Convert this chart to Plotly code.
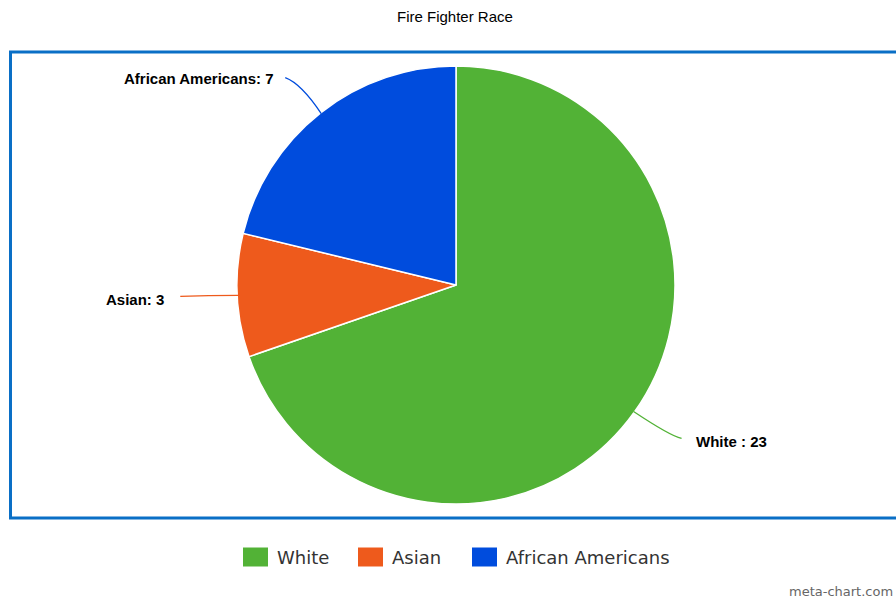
import math
import plotly.graph_objects as go

# Fire fighter headcount by race
categories = ["White", "Asian", "African Americans"]
counts = [23, 3, 7]
colors = ["#52B236", "#EE5A1C", "#004CDD"]

W, H = 896, 600
cx, cy, R = 456, 285, 218  # pie centre and radius in pixels


def px(x):
    return x / W


def py(y):
    return 1 - y / H


fig = go.Figure()
fig.add_trace(go.Pie(
    labels=categories,
    values=counts,
    sort=False,
    direction="clockwise",
    rotation=0,
    marker=dict(colors=colors, line=dict(color="white", width=1.5)),
    textinfo="none",
    hoverinfo="label+value",
    showlegend=False,
    domain=dict(x=[px(cx - R - 1), px(cx + R + 1)], y=[py(cy + R + 1), py(cy - R - 1)]),
))

# outside labels with connector lines, positioned from each slice's mid-angle
total = sum(counts)
label_cfg = {
    "White": dict(dx=48, dy=27, curve=(36, 24), xanchor="left", text_dx=12, text_dy=3),
    "Asian": dict(dx=-58, dy=1, curve=(-30, 0), xanchor="right", text_dx=-14, text_dy=3),
    "African Americans": dict(dx=-36, dy=-36, curve=(-20, -30), xanchor="right", text_dx=-9, text_dy=1),
}
shapes = []
annotations = []
start = 0.0
for name, val, col in zip(categories, counts, colors):
    mid = (start + val / 2) / total * 2 * math.pi
    start += val
    ex = cx + R * math.sin(mid)
    ey = cy - R * math.cos(mid)
    c = label_cfg[name]
    tx, ty = ex + c["dx"], ey + c["dy"]
    qx, qy = ex + c["curve"][0], ey + c["curve"][1]
    shapes.append(dict(
        type="path", xref="paper", yref="paper",
        path=f"M {px(ex)},{py(ey)} Q {px(qx)},{py(qy)} {px(tx)},{py(ty)}",
        line=dict(color=col, width=1.3),
    ))
    sep = " : " if name == "White" else ": "
    annotations.append(dict(
        x=px(tx + c["text_dx"]), y=py(ty + c["text_dy"]), xref="paper", yref="paper",
        text=f"<b>{name}{sep}{val}</b>", showarrow=False,
        xanchor=c["xanchor"], yanchor="middle",
        font=dict(family="Liberation Sans, Arial, sans-serif", size=15, color="#000000"),
    ))

# plot area frame
shapes.append(dict(
    type="rect", xref="paper", yref="paper",
    x0=px(10.5), x1=px(W + 10), y0=py(518), y1=py(52),
    line=dict(color="#0A6FC6", width=3), fillcolor="rgba(0,0,0,0)", layer="below",
))

# legend: colour swatch followed by its category name
legend_x = [243, 358, 472]
legend_y = 557
for name, col, lx in zip(categories, colors, legend_x):
    shapes.append(dict(
        type="rect", xref="paper", yref="paper",
        x0=px(lx), x1=px(lx + 25), y0=py(legend_y + 9.5), y1=py(legend_y - 9.5),
        line=dict(width=0), fillcolor=col,
    ))
    annotations.append(dict(
        x=px(lx + 32), y=py(legend_y), xref="paper", yref="paper", text=name,
        showarrow=False, xanchor="left", yanchor="middle",
        font=dict(family="DejaVu Sans, Verdana, sans-serif", size=18, color="#333333"),
    ))

annotations.append(dict(
    x=px(455), y=py(17), xref="paper", yref="paper", text="Fire Fighter Race",
    showarrow=False, xanchor="center", yanchor="middle",
    font=dict(family="Liberation Sans Narrow, Liberation Sans, Arial, sans-serif", size=15, color="#000000"),
))
annotations.append(dict(
    x=px(895), y=py(591), xref="paper", yref="paper", text="meta-chart.com",
    showarrow=False, xanchor="right", yanchor="middle",
    font=dict(family="DejaVu Sans, sans-serif", size=13, color="#666666"),
))

fig.update_layout(
    width=W, height=H,
    margin=dict(l=0, r=0, t=0, b=0),
    paper_bgcolor="white",
    plot_bgcolor="white",
    shapes=shapes,
    annotations=annotations,
    showlegend=False,
)

fig.write_html("out.html")
